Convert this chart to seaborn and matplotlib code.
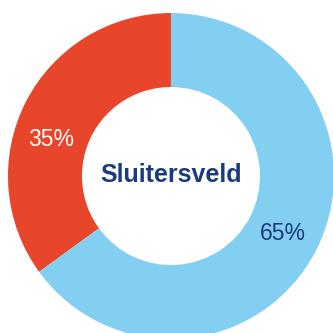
import matplotlib
matplotlib.use("Agg")
import matplotlib.pyplot as plt
import numpy as np
import seaborn as sns

# Share of each group in Sluitersveld
categories = ["Rood", "Blauw"]
values = [35, 65]
labels = ["35%", "65%"]
center_label = "Sluitersveld"

sns.set_style("white")
plt.rcParams["font.family"] = ["Liberation Sans", "DejaVu Sans"]

colors = ["#E8462A", "#82CFF2"]
label_colors = ["#FFFFFF", "#1B3A80"]
label_angles = [163, -27]   # degrees, where each percentage sits on the ring
label_radius = 0.77

fig = plt.figure(figsize=(3.33, 3.33), dpi=100)
ax = fig.add_axes([0, 0, 1, 1])

ax.pie(values, colors=colors, startangle=90, counterclock=True,
       radius=1.0, wedgeprops=dict(width=0.454, linewidth=0))

for lab, ang, col in zip(labels, label_angles, label_colors):
    a = np.deg2rad(ang)
    ax.text(label_radius * np.cos(a), label_radius * np.sin(a), lab,
            ha="center", va="center", fontsize=16.5, color=col)

ax.text(0, 0.005, center_label, ha="center", va="center", fontsize=18,
        fontweight="bold", color="#1B3A80", family=["Liberation Sans", "DejaVu Sans"])

ax.set_xlim(-1.049, 0.994)
ax.set_ylim(-0.963, 1.080)
ax.set_aspect("equal")
ax.axis("off")

fig.savefig("out.png", dpi=100, facecolor="white")
